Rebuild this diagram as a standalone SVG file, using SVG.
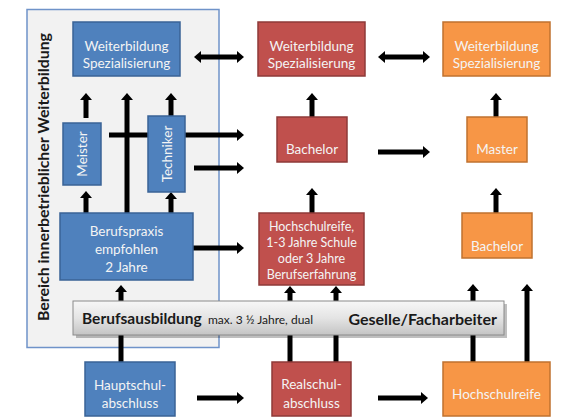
<svg xmlns="http://www.w3.org/2000/svg" width="585" height="420" viewBox="0 0 585 420">
<defs>
<style>
text{font-family:Lato,"Liberation Sans",sans-serif;font-size:13.5px;fill:#f4f4f4;text-anchor:middle;dominant-baseline:central}
.blue{fill:#4f81bd;stroke:#3a6396;stroke-width:1.5}
.red{fill:#c0504d;stroke:#8e3a38;stroke-width:1.5}
.orange{fill:#f79646;stroke:#c0722f;stroke-width:1.5}
.c{fill:none;stroke:#000;stroke-width:5;marker-end:url(#ah)}
.d{marker-start:url(#ah)}
.dark{fill:#1a1a1a;font-weight:bold}
</style>
<marker id="ah" markerUnits="userSpaceOnUse" markerWidth="8" markerHeight="12" refX="1" refY="6" orient="auto-start-reverse">
<path d="M0,0 L7,6 L0,12 z" fill="#000"/>
</marker>
<linearGradient id="bargrad" x1="0" y1="0" x2="0" y2="1">
<stop offset="0" stop-color="#f7f7f7"/>
<stop offset="0.5" stop-color="#e4e4e4"/>
<stop offset="1" stop-color="#c4c4c4"/>
</linearGradient>
</defs>
<rect width="585" height="420" fill="#fff"/>
<g id="panel">
<rect x="27" y="9.5" width="192" height="338" fill="#f2f2f2" stroke="#6f93c9" stroke-width="1.5"/>
<text class="dark" transform="translate(43,177) rotate(-90)" style="font-size:15px" textLength="288" lengthAdjust="spacingAndGlyphs">Bereich innerbetrieblicher Weiterbildung</text>
</g>
<g id="connectors">
<path class="c d" d="M200,57 H238"/>
<path class="c d" d="M384,57 H424"/>
<path class="c" d="M86,118 V99"/>
<path class="c" d="M127,213 V99"/>
<path class="c" d="M171,116 V99"/>
<path class="c" d="M109,135 H238"/>
<path class="c" d="M194,168 H238"/>
<path class="c" d="M86,213 V197"/>
<path class="c" d="M171,213 V198"/>
<path class="c" d="M193,248 H238"/>
<path class="c" d="M121,301 V291"/>
<path class="c" d="M121,362 V331"/>
<path class="c" d="M197,398 H238"/>
<path class="c" d="M290,301 V292"/>
<path class="c" d="M290,362 V331"/>
<path class="c" d="M336,362 V292"/>
<path class="c" d="M312,213 V194"/>
<path class="c" d="M312,117 V99"/>
<path class="c" d="M378,152 H424"/>
<path class="c" d="M496,117 V99"/>
<path class="c" d="M496,213 V194"/>
<path class="c" d="M473,301 V290"/>
<path class="c" d="M473,362 V331"/>
<path class="c" d="M527,362 V290"/>
<path class="c" d="M378,398 H422"/>
</g>
<g id="blueTop"><rect class="blue" x="73" y="22" width="107" height="54"/><text x="126.5" y="46">Weiterbildung</text><text x="126.5" y="63">Spezialisierung</text></g>
<g id="meister"><rect class="blue" x="63" y="123" width="38" height="62"/><text transform="translate(82,154) rotate(-90)">Meister</text></g>
<g id="techniker"><rect class="blue" x="148" y="116" width="37" height="76"/><text transform="translate(166.5,154) rotate(-90)">Techniker</text></g>
<g id="berufspraxis"><rect class="blue" x="60" y="213" width="133" height="67"/><text x="126.5" y="231">Berufspraxis</text><text x="126.5" y="249">empfohlen</text><text x="126.5" y="267">2 Jahre</text></g>
<g id="hauptschul"><rect class="blue" x="85" y="362" width="90" height="54"/><text x="130" y="385">Hauptschul-</text><text x="130" y="403">abschluss</text></g>
<g id="redTop"><rect class="red" x="258" y="22" width="107" height="54"/><text x="311.5" y="46">Weiterbildung</text><text x="311.5" y="63">Spezialisierung</text></g>
<g id="redBachelor"><rect class="red" x="277" y="117" width="70" height="45"/><text x="312" y="149">Bachelor</text></g>
<g id="redHochschulreife"><rect class="red" x="259" y="213" width="105" height="72"/><text x="311.5" y="226" style="font-size:12.5px">Hochschulreife,</text><text x="311.5" y="242" style="font-size:12.5px">1-3 Jahre Schule</text><text x="311.5" y="258" style="font-size:12.5px">oder 3 Jahre</text><text x="311.5" y="274" style="font-size:12.5px">Berufserfahrung</text></g>
<g id="realschul"><rect class="red" x="272" y="362" width="79" height="54"/><text x="311.5" y="384">Realschul-</text><text x="311.5" y="403">abschluss</text></g>
<g id="orangeTop"><rect class="orange" x="443" y="22" width="107" height="54"/><text x="496.5" y="46">Weiterbildung</text><text x="496.5" y="63">Spezialisierung</text></g>
<g id="master"><rect class="orange" x="467" y="117" width="60" height="45"/><text x="497" y="149">Master</text></g>
<g id="orangeBachelor"><rect class="orange" x="462" y="213" width="70" height="45"/><text x="497" y="246">Bachelor</text></g>
<g id="orangeHochschulreife"><rect class="orange" x="443" y="362" width="107" height="54"/><text x="496.5" y="394">Hochschulreife</text></g>
<g id="berufsausbildung">
<rect x="76" y="304" width="431" height="34" fill="#000" opacity="0.25"/>
<rect x="73" y="301" width="431" height="34" fill="url(#bargrad)" stroke="#8a8a8a" stroke-width="1"/>
<text class="dark" x="82" y="318" style="text-anchor:start;font-size:15.5px">Berufsausbildung</text>
<text x="208" y="319" style="text-anchor:start;font-size:12px;fill:#1a1a1a">max. 3 ½ Jahre, dual</text>
<text class="dark" x="497" y="318" style="text-anchor:end;font-size:16px">Geselle/Facharbeiter</text>
</g>
</svg>
